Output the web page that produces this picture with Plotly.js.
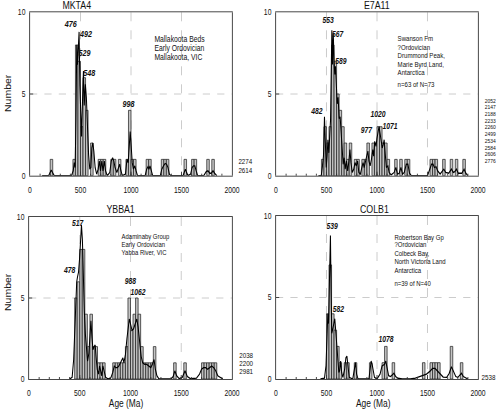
<!DOCTYPE html>
<html><head><meta charset="utf-8">
<script src="https://cdn.plot.ly/plotly-3.0.1.min.js"></script>
<style>
html,body{margin:0;padding:0;background:#fff;overflow:hidden}
#wrap{width:500px;height:412px;overflow:hidden}
#chart{width:625px;height:412px;transform:scaleX(0.8);transform-origin:0 0}
</style>
</head><body><div id="wrap"><div id="chart"></div></div>
<script>
// ---------- DATA (bin left edges in Ma, counts; density curve points) ----------
const binWidth = 25;

const mktaBinStart = [200,425,450,475,500,525,550,600,675,700,725,800,825,875,950,975,1000,1025,1150,1175,1300,1325,1350,1525,1600,1625,1750,1800];
const mktaCount    = [1,1,8,7,3,6,4,2,1,1,1,1,1,1,1,4,1,1,1,1,1,1,1,1,1,1,1,1];
const mktaCurveAge = [120,185,200,210,222,240,410,428,438,447,455,463,470,478,486,494,502,510,520,529,537,548,558,568,580,592,603,612,622,632,645,660,675,686,698,711,723,736,748,765,790,805,818,830,842,860,876,888,900,915,945,960,972,982,992,1002,1012,1024,1038,1050,1065,1140,1155,1168,1178,1188,1200,1215,1290,1305,1322,1338,1352,1366,1380,1395,1515,1528,1538,1550,1565,1590,1605,1618,1632,1645,1660,1720,1745,1762,1780,1795,1812,1828,1850];
const mktaCurveN   = [0,0,0.2,0.35,0.2,0,0,0.3,0.8,0.5,3.5,8.0,6.8,7.6,8.8,5.5,3.2,2.4,4.6,6.4,4.3,5.6,4.8,3.0,1.3,0.4,0.5,1.7,2.0,1.5,0.5,0.1,0.4,0.9,0.3,0.9,0.3,0.9,0.3,0,0.2,0.9,1.1,0.9,0.5,0.2,0.5,0.7,0.3,0,0.1,1.0,0.8,1.8,2.7,1.8,0.8,0.4,0.6,0.3,0,0,0.4,0.55,0.4,0.6,0.3,0,0,0.4,0.6,0.75,0.7,0.5,0.1,0,0,0.3,0.4,0.2,0,0.1,0.5,0.6,0.6,0.3,0,0,0.25,0.3,0.15,0.15,0.3,0.15,0];
const mktaPeaks = ['476','492','529','548','998'];
const mktaInfo  = ['Mallakoota Beds','Early Ordovician','Mallakoota, VIC'];
const mktaOld   = ['2274','2614'];

const e7aBinStart = [450,475,500,525,550,575,600,625,650,675,700,725,775,800,850,875,900,950,975,1000,1025,1050,1075,1100,1175,1225,1275,1300,1525,1550,1575,1650,1725,1775,1850];
const e7aCount    = [1,3,2,3,8,7,5,4,3,2,1,2,1,1,1,1,2,2,2,3,3,2,2,1,1,1,1,1,1,1,1,1,1,1,1];
const e7aCurveAge = [420,448,460,470,480,488,497,506,514,523,532,540,547,553,560,567,575,582,589,597,606,615,625,635,645,655,665,675,685,697,710,722,732,742,755,770,782,795,808,820,835,850,862,873,886,898,910,920,932,945,958,967,977,990,1000,1010,1020,1030,1042,1052,1062,1071,1082,1093,1108,1120,1140,1170,1187,1203,1220,1237,1253,1270,1290,1306,1322,1340,1500,1520,1540,1555,1568,1585,1600,1625,1645,1662,1680,1710,1737,1755,1770,1787,1805,1840,1862,1880,1900];
const e7aCurveN   = [0,0,0.6,1.2,3.6,1.8,0.5,1.2,2.2,1.4,2.6,3.4,6.5,8.9,6.8,8.7,7.0,6.2,6.7,5.2,4.4,4.8,3.5,3.6,2.4,1.7,0.7,1.1,0.4,0.9,0.3,0.9,1.6,0.8,0.2,0.4,0.8,0.6,0.9,0.2,0.1,0.5,0.8,0.5,0.8,1.2,1.5,0.9,0.6,1.0,1.6,1.2,2.1,1.8,2.3,2.8,3.0,2.6,2.0,1.7,1.9,2.2,1.3,0.5,0.6,0.2,0.05,0.2,0.5,0.1,0.15,0.5,0.1,0.2,0.7,0.7,0.15,0,0,0.35,0.7,0.7,0.5,0.55,0.3,0.1,0.3,0.4,0.2,0.15,0.4,0.2,0.25,0.4,0.15,0.15,0.4,0.15,0];
const e7aPeaks = ['553','567','589','482','1020','977','1071'];
const e7aInfo  = ['Swanson Fm','?Ordovician','Drummond Peak,','Marie Byrd Land,','Antarctica','n=63 of N=73'];
const e7aOld   = ['2052','2147','2188','2233','2260','2499','2534','2584','2606','2776'];

const ybbaBinStart = [450,475,500,525,550,575,600,625,650,675,700,725,825,850,875,900,925,950,975,1000,1025,1050,1075,1100,1125,1150,1175,1200,1225,1425,1525,1700,1725,1750,1775,1800,1825];
const ybbaCount    = [5,6,8,8,4,2,4,2,2,1,1,1,1,1,1,1,1,2,5,3,4,5,4,2,1,1,1,1,2,1,1,1,1,1,1,1,1];
const ybbaCurveAge = [400,425,440,452,462,470,478,488,498,508,517,526,535,545,555,565,577,590,602,610,620,630,641,652,662,672,685,695,706,716,728,740,755,780,805,825,840,855,870,885,900,915,925,935,950,965,978,988,1000,1015,1030,1045,1062,1075,1090,1105,1120,1140,1160,1180,1200,1215,1232,1245,1260,1280,1400,1420,1437,1455,1480,1510,1537,1560,1590,1650,1680,1700,1720,1740,1760,1780,1800,1820,1840,1860,1890,1910];
const ybbaCurveN   = [0,0.1,1.2,3.5,5.2,6.0,6.3,6.6,7.4,8.6,9.5,8.6,6.2,4.2,2.8,2.0,1.1,1.6,3.0,3.6,2.6,1.8,2.0,2.1,1.3,0.6,0.3,0.8,0.5,0.2,0.8,0.4,0.1,0,0.05,0.4,0.8,0.7,0.7,0.8,1.0,1.2,1.3,1.0,1.5,2.5,3.4,3.7,3.4,3.0,3.1,3.4,3.7,3.2,2.2,1.4,1.0,0.9,0.9,0.8,0.7,0.9,1.2,0.6,0.2,0,0,0.15,0.5,0.2,0.02,0.1,0.5,0.15,0.02,0.05,0.3,0.6,0.7,0.7,0.6,0.7,0.8,0.7,0.5,0.2,0.05,0];
const ybbaPeaks = ['517','478','988','1062'];
const ybbaInfo  = ['Adaminaby Group','Early Ordovician','Yabba River, VIC'];
const ybbaOld   = ['2038','2200','2981'];

const colbBinStart = [500,525,550,575,600,625,675,700,775,925,1050,1075,1150,1450,1525,1550,1575,1600,1725,1825];
const colbCount    = [4,7,4,3,2,1,1,1,1,1,1,2,1,1,1,1,1,1,2,1];
const colbCurveAge = [440,480,495,505,513,520,528,534,539,545,552,560,570,582,592,602,612,622,630,640,650,662,680,692,702,712,725,760,775,787,798,812,920,932,942,952,962,975,1000,1030,1050,1062,1075,1087,1100,1115,1135,1155,1168,1185,1205,1250,1330,1380,1430,1462,1490,1520,1550,1575,1600,1625,1655,1690,1715,1737,1755,1780,1800,1820,1837,1855,1880,1900];
const colbCurveN   = [0,0.05,0.8,3.0,4.0,3.4,6.0,8.0,8.8,5.5,2.8,3.0,3.4,3.7,2.9,1.9,1.1,0.4,0.5,1.1,0.4,0.1,0.6,1.3,1.4,0.7,0.1,0,0.7,1.0,0.3,0,0,0.8,1.1,0.9,0.5,0.1,0,0.3,0.8,0.85,0.9,1.1,0.6,0.2,0.15,0.3,0.35,0.15,0.05,0,0,0.05,0.15,0.25,0.3,0.45,0.65,0.65,0.5,0.3,0.12,0.1,0.35,0.75,0.5,0.15,0.1,0.25,0.35,0.15,0.05,0];
const colbPeaks = ['539','582','1078'];
const colbInfo  = ['Robertson Bay Gp','?Ordovician','Colbeck Bay,','North Victoria Land','Antarctica','n=39 of N=40'];
const colbOld   = ['2538'];

const panelTitles = ['MKTA4','E7A11','YBBA1','COLB1'];
const xTicks = [0,500,1000,1500,2000];
const yTicks = [0,5,10];

// ---------- LAYOUT / STYLE ----------
const FONT = 'Liberation Sans, Arial, Helvetica, sans-serif';
const W = 500, H = 412;
const fx = p => p / W, fy = p => 1 - p / H;

const panels = [
  {bins: mktaBinStart, counts: mktaCount, ca: mktaCurveAge, cn: mktaCurveN, xd:[30,232], yd:[175.7,12.3]},
  {bins: e7aBinStart,  counts: e7aCount,  ca: e7aCurveAge,  cn: e7aCurveN,  xd:[276,478], yd:[175.7,12.3]},
  {bins: ybbaBinStart, counts: ybbaCount, ca: ybbaCurveAge, cn: ybbaCurveN, xd:[29,232],  yd:[379,217]},
  {bins: colbBinStart, counts: colbCount, ca: colbCurveAge, cn: colbCurveN, xd:[276,478], yd:[379,216]}
];

const traces = [];
const layout = {
  width: 625, height: 412,
  margin: {l:0, r:0, t:0, b:0},
  paper_bgcolor: '#fff', plot_bgcolor: '#fff',
  showlegend: false,
  font: {family: FONT, color: '#111', size: 8},
  annotations: []
};

panels.forEach((p, i) => {
  const sfx = i === 0 ? '' : String(i + 1);
  const xa = 'x' + sfx, ya = 'y' + sfx;
  traces.push({
    type: 'bar', x: p.bins.map(b => b + binWidth / 2), y: p.counts, width: binWidth,
    xaxis: xa, yaxis: ya,
    marker: {color: '#c4c4c4', line: {color: '#1e1e1e', width: 0.8}},
    hoverinfo: 'skip'
  });
  traces.push({
    type: 'scatter', mode: 'lines', x: p.ca, y: p.cn, xaxis: xa, yaxis: ya,
    line: {color: '#000', width: 1.3}, hoverinfo: 'skip'
  });
  layout['xaxis' + sfx] = {
    domain: [fx(p.xd[0]), fx(p.xd[1])], anchor: ya, range: [0, 2000],
    tickmode: 'array', tickvals: xTicks, ticktext: xTicks.map(String),
    ticks: 'inside', ticklen: 4, tickcolor: '#333', tickwidth: 1,
    minor: {tickmode: 'linear', dtick: 100, tick0: 0, ticks: 'inside', ticklen: 2, tickcolor: '#333', showgrid: false},
    showline: true, mirror: true, linecolor: '#333', linewidth: 1,
    showgrid: true, gridcolor: '#c6c6c6', griddash: 'dash', gridwidth: 1,
    zeroline: false, tickfont: {size: 8.5, family: FONT, color: '#111'}, ticklabelstandoff: 6,
    fixedrange: true
  };
  layout['yaxis' + sfx] = {
    domain: [fy(p.yd[0]), fy(p.yd[1])], anchor: xa, range: [0, 10],
    tickmode: 'array', tickvals: yTicks, ticktext: yTicks.map(String),
    ticks: 'inside', ticklen: 4, tickcolor: '#333',
    showline: true, mirror: true, linecolor: '#333', linewidth: 1,
    showgrid: true, gridcolor: '#c6c6c6', griddash: 'dash', gridwidth: 1,
    zeroline: false, tickfont: {size: 8.5, family: FONT, color: '#111'}, ticklabelstandoff: 3,
    fixedrange: true
  };
});

const ann = layout.annotations;
function paperText(text, px, py, size, opts) {
  ann.push(Object.assign({xref:'paper', yref:'paper', x: fx(px), y: fy(py), text: text, showarrow: false,
    xanchor: 'center', yanchor: 'middle', font: {family: FONT, size: size, color: '#111'}}, opts || {}));
}
function dataText(text, sfx, x, y, size) {
  ann.push({xref: 'x' + sfx, yref: 'y' + sfx, x: x, y: y, text: '<b><i>' + text + '</i></b>', showarrow: false,
    xanchor: 'center', yanchor: 'middle', font: {family: FONT, size: size, color: '#111'}});
}

// titles
paperText(panelTitles[0], 77, 5, 11);
paperText(panelTitles[1], 377, 5, 11);
paperText(panelTitles[2], 120, 209, 11);
paperText(panelTitles[3], 374, 209, 11);
// axis titles
paperText('Number', 8, 93, 10.5, {textangle: -90});
paperText('Number', 8, 292, 10.5, {textangle: -90});
paperText('Age (Ma)', 126, 402.5, 10.5);
paperText('Age (Ma)', 373, 402.5, 10.5);

// peak labels (data coordinates)
const mktaPeakAt = [[403,9.3],[554,8.7],[538,7.5],[587,6.3],[973,4.4]];
const e7aPeakAt  = [[511,9.5],[617,8.7],[640,7.0],[403,3.96],[1007,3.75],[898,2.8],[1129,3.04]];
const ybbaPeakAt = [[480,9.6],[394,6.7],[998,6.06],[1071,5.4]];
const colbPeakAt = [[551,9.4],[617,4.3],[1089,2.43]];
mktaPeaks.forEach((t, k) => dataText(t, '', mktaPeakAt[k][0], mktaPeakAt[k][1], 9));
e7aPeaks.forEach((t, k) => dataText(t, '2', e7aPeakAt[k][0], e7aPeakAt[k][1], 8.5));
ybbaPeaks.forEach((t, k) => dataText(t, '3', ybbaPeakAt[k][0], ybbaPeakAt[k][1], 8.5));
colbPeaks.forEach((t, k) => dataText(t, '4', colbPeakAt[k][0], colbPeakAt[k][1], 8.5));

// info blocks
const L = {xanchor: 'left'};
const mktaInfoY = [39, 48.3, 57];
mktaInfo.forEach((t, k) => paperText(t, 152.7, mktaInfoY[k], 8.5, L));
const e7aInfoY = [38.3, 47, 55.7, 64.3, 72.7, 84.3];
e7aInfo.forEach((t, k) => paperText(t, 395.7, e7aInfoY[k], 7.6, L));
const ybbaInfoY = [236, 244.3, 252.3];
ybbaInfo.forEach((t, k) => paperText(t, 120, ybbaInfoY[k], 7.4, L));
const colbInfoY = [237.3, 245, 253.3, 261.7, 270, 283.3];
colbInfo.forEach((t, k) => paperText(t, 392.7, colbInfoY[k], 7.5, L));

// ages > 2000 Ma listed beside the panels
const mktaOldY = [161.5, 170];
mktaOld.forEach((t, k) => paperText(t, 236.5, mktaOldY[k], 7.8, L));
e7aOld.forEach((t, k) => paperText(t, 483, 100 + k * 6.74, 6.2, L));
const ybbaOldY = [355, 363.3, 371];
ybbaOld.forEach((t, k) => paperText(t, 237.3, ybbaOldY[k], 7.8, L));
colbOld.forEach((t, k) => paperText(t, 480, 377, 7.8, L));

Plotly.newPlot('chart', traces, layout, {staticPlot: true, displayModeBar: false});
</script></body></html>
